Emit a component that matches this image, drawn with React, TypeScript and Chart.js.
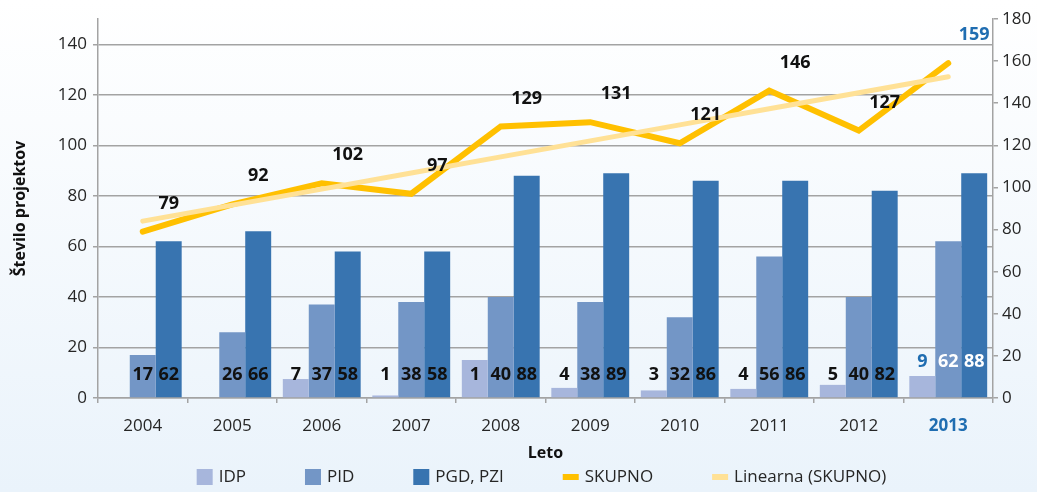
import React, { useEffect, useRef } from 'react';
import { Chart, registerables } from 'chart.js';

Chart.register(...registerables);

const years = ['2004', '2005', '2006', '2007', '2008', '2009', '2010', '2011', '2012', '2013'];
const idpValues = [0, 0, 7.5, 1, 15, 4, 3, 3.6, 5.2, 8.7];
const pidValues = [17, 26, 37, 38, 40, 38, 32, 56, 40, 62];
const pgdValues = [62, 66, 58, 58, 88, 89, 86, 86, 82, 89];
const skupnoValues = [79, 92, 102, 97, 129, 131, 121, 146, 127, 159];
const trendValues = [84, 91.6, 99.2, 106.9, 114.5, 122.1, 129.7, 137.4, 145, 152.6];
const idpLabels = ['', '', '7', '1', '1', '4', '3', '4', '5', '9'];
const pidLabels = ['17', '26', '37', '38', '40', '38', '32', '56', '40', '62'];
const pgdLabels = ['62', '66', '58', '58', '88', '89', '86', '86', '82', '88'];
const skupnoLabels = ['79', '92', '102', '97', '129', '131', '121', '146', '127', '159'];
const leftTicks = [0, 20, 40, 60, 80, 100, 120, 140];
const rightTicks = [0, 20, 40, 60, 80, 100, 120, 140, 160, 180];

const FONT = '"Open Sans", "Noto Sans", sans-serif';
const HIGHLIGHT = '#1F6DB1';
const GRID = '#a3a3a3';

const bgPlugin = {
  id: 'bg',
  beforeDraw(chart: any) {
    const { ctx, width, height } = chart;
    const g = ctx.createLinearGradient(0, 0, 0, height);
    g.addColorStop(0, '#ffffff');
    g.addColorStop(1, '#eaf3fb');
    ctx.save();
    ctx.fillStyle = g;
    ctx.fillRect(0, 0, width, height);
    ctx.restore();
  },
};

const labelPlugin = {
  id: 'labels',
  afterDatasetsDraw(chart: any) {
    const { ctx } = chart;
    const y0 = chart.scales.y.getPixelForValue(0);
    const barSets = [
      { idx: 0, labels: idpLabels },
      { idx: 1, labels: pidLabels },
      { idx: 2, labels: pgdLabels },
    ];
    ctx.save();
    ctx.textAlign = 'center';
    ctx.textBaseline = 'middle';
    ctx.font = `bold 18px ${FONT}`;
    barSets.forEach(({ idx, labels }) => {
      const meta = chart.getDatasetMeta(idx);
      meta.data.forEach((el: any, i: number) => {
        const t = labels[i];
        if (!t) return;
        const last = i === labels.length - 1;
        ctx.fillStyle = last ? (idx === 0 ? HIGHLIGHT : '#ffffff') : '#111111';
        ctx.fillText(t, el.x, y0 - (last ? 36 : 23));
      });
    });
    const lineMeta = chart.getDatasetMeta(3);
    const pgdMeta = chart.getDatasetMeta(2);
    lineMeta.data.forEach((pt: any, i: number) => {
      const last = i === skupnoLabels.length - 1;
      ctx.fillStyle = last ? HIGHLIGHT : '#111111';
      ctx.fillText(skupnoLabels[i], pgdMeta.data[i].x, pt.y - 28);
    });
    ctx.restore();
  },
};

const legendPlugin = {
  id: 'customLegend',
  afterDraw(chart: any) {
    const { ctx, chartArea } = chart;
    const items = chart.data.datasets.map((ds: any) => ({
      label: ds.label,
      isLine: ds.type === 'line',
      color: ds.type === 'line' ? ds.borderColor : ds.backgroundColor,
    }));
    ctx.save();
    ctx.font = `17px ${FONT}`;
    const box = 16;
    const gap = 6;
    const spacing = 59;
    const widths = items.map((it: any) => box + gap + ctx.measureText(it.label).width);
    const total = widths.reduce((a: number, b: number) => a + b, 0) + spacing * (items.length - 1);
    let x = (chartArea.left + chartArea.right) / 2 - 4 - total / 2;
    const y = 477;
    ctx.textBaseline = 'middle';
    ctx.textAlign = 'left';
    items.forEach((it: any, i: number) => {
      ctx.fillStyle = it.color;
      if (it.isLine) ctx.fillRect(x, y - 3, box, 6);
      else ctx.fillRect(x, y - box / 2, box, box);
      ctx.fillStyle = '#262626';
      ctx.fillText(it.label, x + box + gap, y);
      x += widths[i] + spacing;
    });
    ctx.restore();
  },
};

export default function App() {
  const ref = useRef<HTMLCanvasElement>(null);
  useEffect(() => {
    document.body.style.margin = '0';
    const chart = new Chart(ref.current as HTMLCanvasElement, {
      type: 'bar',
      data: {
        labels: years,
        datasets: [
          { label: 'IDP', data: idpValues, backgroundColor: '#A7B6DC', yAxisID: 'y', order: 2, categoryPercentage: 0.87, barPercentage: 1 } as any,
          { label: 'PID', data: pidValues, backgroundColor: '#7396C6', yAxisID: 'y', order: 2, categoryPercentage: 0.87, barPercentage: 1 } as any,
          { label: 'PGD, PZI', data: pgdValues, backgroundColor: '#3874B0', yAxisID: 'y', order: 2, categoryPercentage: 0.87, barPercentage: 1 } as any,
          { type: 'line', label: 'SKUPNO', data: skupnoValues, borderColor: '#FFC000', backgroundColor: '#FFC000', borderWidth: 6, pointRadius: 0, tension: 0, yAxisID: 'y2', order: 1, borderCapStyle: 'round', borderJoinStyle: 'miter' } as any,
          { type: 'line', label: 'Linearna (SKUPNO)', data: trendValues, borderColor: '#FFE196', backgroundColor: '#FFE196', borderWidth: 5, pointRadius: 0, tension: 0, yAxisID: 'y2', order: 0, borderCapStyle: 'round' } as any,
        ],
      },
      options: {
        responsive: false,
        animation: false,
        layout: { padding: { left: 0, right: 0, top: 19, bottom: 23 } },
        plugins: { legend: { display: false }, tooltip: { enabled: false } },
        scales: {
          x: {
            afterFit: (s: any) => { s.height = 71; },
            grid: { display: true, drawOnChartArea: false, drawTicks: true, tickLength: 5, color: GRID, lineWidth: 1.5, offset: true },
            border: { display: true, color: GRID, width: 1.5 },
            ticks: {
              padding: 13,
              color: (c: any) => (c.index === years.length - 1 ? HIGHLIGHT : '#262626'),
              font: (c: any) => ({ family: FONT, size: 17, weight: c.index === years.length - 1 ? 'bold' : 'normal' }),
            },
            title: { display: true, text: 'Leto', color: '#111', font: { family: FONT, size: 16, weight: 'bold' }, padding: { top: 0, bottom: 6 } },
          },
          y: {
            position: 'left',
            min: 0,
            max: 150,
            afterBuildTicks: (s: any) => { s.ticks = leftTicks.map((v) => ({ value: v })); },
            afterFit: (s: any) => { s.width = 98; },
            grid: { color: GRID, lineWidth: 1.5, drawTicks: true, tickLength: 5 },
            border: { display: true, color: GRID, width: 1.5 },
            ticks: { padding: 6, color: '#262626', font: { family: FONT, size: 17 } },
            title: { display: true, text: 'Število projektov', color: '#111', font: { family: FONT, size: 16, weight: 'bold' }, padding: { top: 11, bottom: 0 } },
          },
          y2: {
            position: 'right',
            min: 0,
            max: 180,
            afterBuildTicks: (s: any) => { s.ticks = rightTicks.map((v) => ({ value: v })); },
            afterFit: (s: any) => { s.width = 44; },
            grid: { drawOnChartArea: false, color: GRID, lineWidth: 1.5, drawTicks: true, tickLength: 5 },
            border: { display: true, color: GRID, width: 1.5 },
            ticks: { padding: 4, color: '#262626', font: { family: FONT, size: 17 } },
          },
        },
      },
      plugins: [bgPlugin, labelPlugin, legendPlugin],
    } as any);
    return () => chart.destroy();
  }, []);
  return (
    <div style={{ width: 1037, height: 492 }}>
      <canvas ref={ref} width={1037} height={492} />
    </div>
  );
}
